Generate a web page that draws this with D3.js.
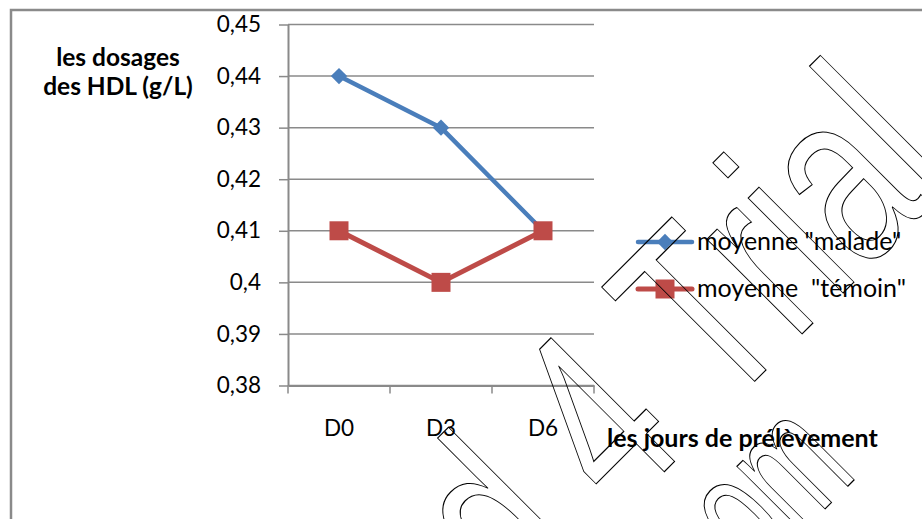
<!DOCTYPE html>
<html>
<head>
<meta charset="utf-8">
<script src="https://cdn.jsdelivr.net/npm/d3@7.9.0/dist/d3.min.js"></script>
<style>
  html, body { margin: 0; padding: 0; background: #fff; }
  svg { display: block; font-family: Lato, "Open Sans", sans-serif; }
  .tick text { fill: #000; }
</style>
</head>
<body>
<svg id="chart" width="922" height="519"></svg>
<script>
// chart values
const days = ['D0', 'D3', 'D6'];
const malade = [0.44, 0.43, 0.41];
const temoin = [0.41, 0.40, 0.41];
const yTicks = [0.38, 0.39, 0.40, 0.41, 0.42, 0.43, 0.44, 0.45];
const yTickLabels = ['0,38', '0,39', '0,4', '0,41', '0,42', '0,43', '0,44', '0,45'];
const seriesNames = ['moyenne "malade"', 'moyenne  "témoin"'];

const blue = '#4a7ebb';
const red = '#be4b48';
const grey = '#8a8a8a';

let svg = d3.select('#chart');

// outer frame of the chart area
svg.append('path')
    .attr('d', 'M11,530 L11,10 L930,10')
    .attr('fill', 'none')
    .attr('stroke', grey)
    .attr('stroke-width', 2.5);

let x = d3.scaleBand().domain(days).range([288, 594]);
let y = d3.scaleLinear().domain([0.38, 0.45]).range([385.5, 24.5]);

// horizontal gridlines
svg.append('g')
    .selectAll('line')
    .data(yTicks)
    .join('line')
    .attr('x1', 288)
    .attr('x2', 594)
    .attr('y1', d => y(d))
    .attr('y2', d => y(d))
    .attr('stroke', grey)
    .attr('stroke-width', 1.5);

// y axis
let yAxis = svg.append('g')
    .attr('transform', 'translate(288,0)')
    .call(d3.axisLeft(y)
        .tickValues(yTicks)
        .tickSize(9)
        .tickSizeOuter(0)
        .tickPadding(18)
        .tickFormat((d, i) => yTickLabels[i]));
yAxis.selectAll('line').attr('stroke', grey).attr('stroke-width', 1.5);
yAxis.select('.domain').attr('stroke', grey).attr('stroke-width', 2);
yAxis.selectAll('text').attr('font-size', 22.5).attr('font-family', 'Lato');

// x axis: labels at band centres, ticks between categories
let xAxis = svg.append('g')
    .attr('transform', 'translate(0,385.5)')
    .call(d3.axisBottom(x).tickSize(0).tickPadding(35));
xAxis.select('.domain').attr('stroke', grey).attr('stroke-width', 2);
xAxis.selectAll('text').attr('font-size', 22.5).attr('font-family', 'Lato');

let edges = days.map(d => x(d)).concat([x.range()[1]]);
xAxis.selectAll('line.edge')
    .data(edges)
    .join('line')
    .attr('class', 'edge')
    .attr('x1', d => d)
    .attr('x2', d => d)
    .attr('y1', 0)
    .attr('y2', 8)
    .attr('stroke', grey)
    .attr('stroke-width', 1.5);

// series
let cx = d => x(d) + x.bandwidth() / 2;
let line = d3.line().x((d, i) => cx(days[i])).y(d => y(d));

svg.append('path')
    .datum(malade)
    .attr('d', line)
    .attr('fill', 'none')
    .attr('stroke', blue)
    .attr('stroke-width', 4.5)
    .attr('stroke-linejoin', 'round');

svg.append('path')
    .datum(temoin)
    .attr('d', line)
    .attr('fill', 'none')
    .attr('stroke', red)
    .attr('stroke-width', 5)
    .attr('stroke-linejoin', 'round');

let diamond = d3.symbol().type(d3.symbolDiamond2).size(170);
let square = d3.symbol().type(d3.symbolSquare).size(361);

svg.append('g')
    .selectAll('path')
    .data(malade)
    .join('path')
    .attr('transform', (d, i) => `translate(${cx(days[i])},${y(d)})`)
    .attr('d', diamond)
    .attr('fill', blue);

svg.append('g')
    .selectAll('path')
    .data(temoin)
    .join('path')
    .attr('transform', (d, i) => `translate(${cx(days[i])},${y(d)})`)
    .attr('d', square)
    .attr('fill', red);

// axis titles
let yTitle = svg.append('text')
    .attr('x', 118)
    .attr('y', 66)
    .attr('text-anchor', 'middle')
    .attr('font-size', 24.5)
    .attr('font-weight', 'bold');
yTitle.append('tspan').attr('x', 118).text('les dosages');
yTitle.append('tspan').attr('x', 118).attr('dy', 29).text('des HDL (g/L)');

svg.append('text')
    .attr('x', 607)
    .attr('y', 447)
    .attr('font-size', 25)
    .attr('font-weight', 'bold')
    .text('les jours de prélèvement');

// legend
let legend = svg.append('g').attr('transform', 'translate(638,0)');
let legendY = [242, 289];
let legendColors = [blue, red];

seriesNames.forEach((name, i) => {
    let row = legend.append('g').attr('transform', `translate(0,${legendY[i]})`);
    row.append('line')
        .attr('x1', 0).attr('x2', 54)
        .attr('stroke', legendColors[i])
        .attr('stroke-width', i === 0 ? 4.5 : 5)
        .attr('stroke-linecap', 'round');
    row.append('path')
        .attr('transform', 'translate(27,0)')
        .attr('d', i === 0 ? diamond : square)
        .attr('fill', legendColors[i]);
    row.append('text')
        .attr('x', 59)
        .attr('y', 8)
        .attr('font-size', 25)
        .style('white-space', 'pre')
        .text(name);
});

// outlined trial watermark lying over the chart
let mark = svg.append('g')
    .attr('fill', 'none')
    .attr('stroke', '#000')
    .attr('stroke-width', 1)
    .attr('font-family', '"Liberation Sans", Arial, sans-serif');
mark.append('text')
    .attr('transform', 'translate(518,618) rotate(-45) scale(0.69,1)')
    .attr('font-size', 254)
    .attr('vector-effect', 'non-scaling-stroke')
    .style('white-space', 'pre')
    .text('d 4 Trial');
mark.append('text')
    .attr('transform', 'translate(756,578) rotate(-45) scale(0.6,1)')
    .attr('font-size', 175)
    .attr('vector-effect', 'non-scaling-stroke')
    .text('om');
</script>
</body>
</html>
